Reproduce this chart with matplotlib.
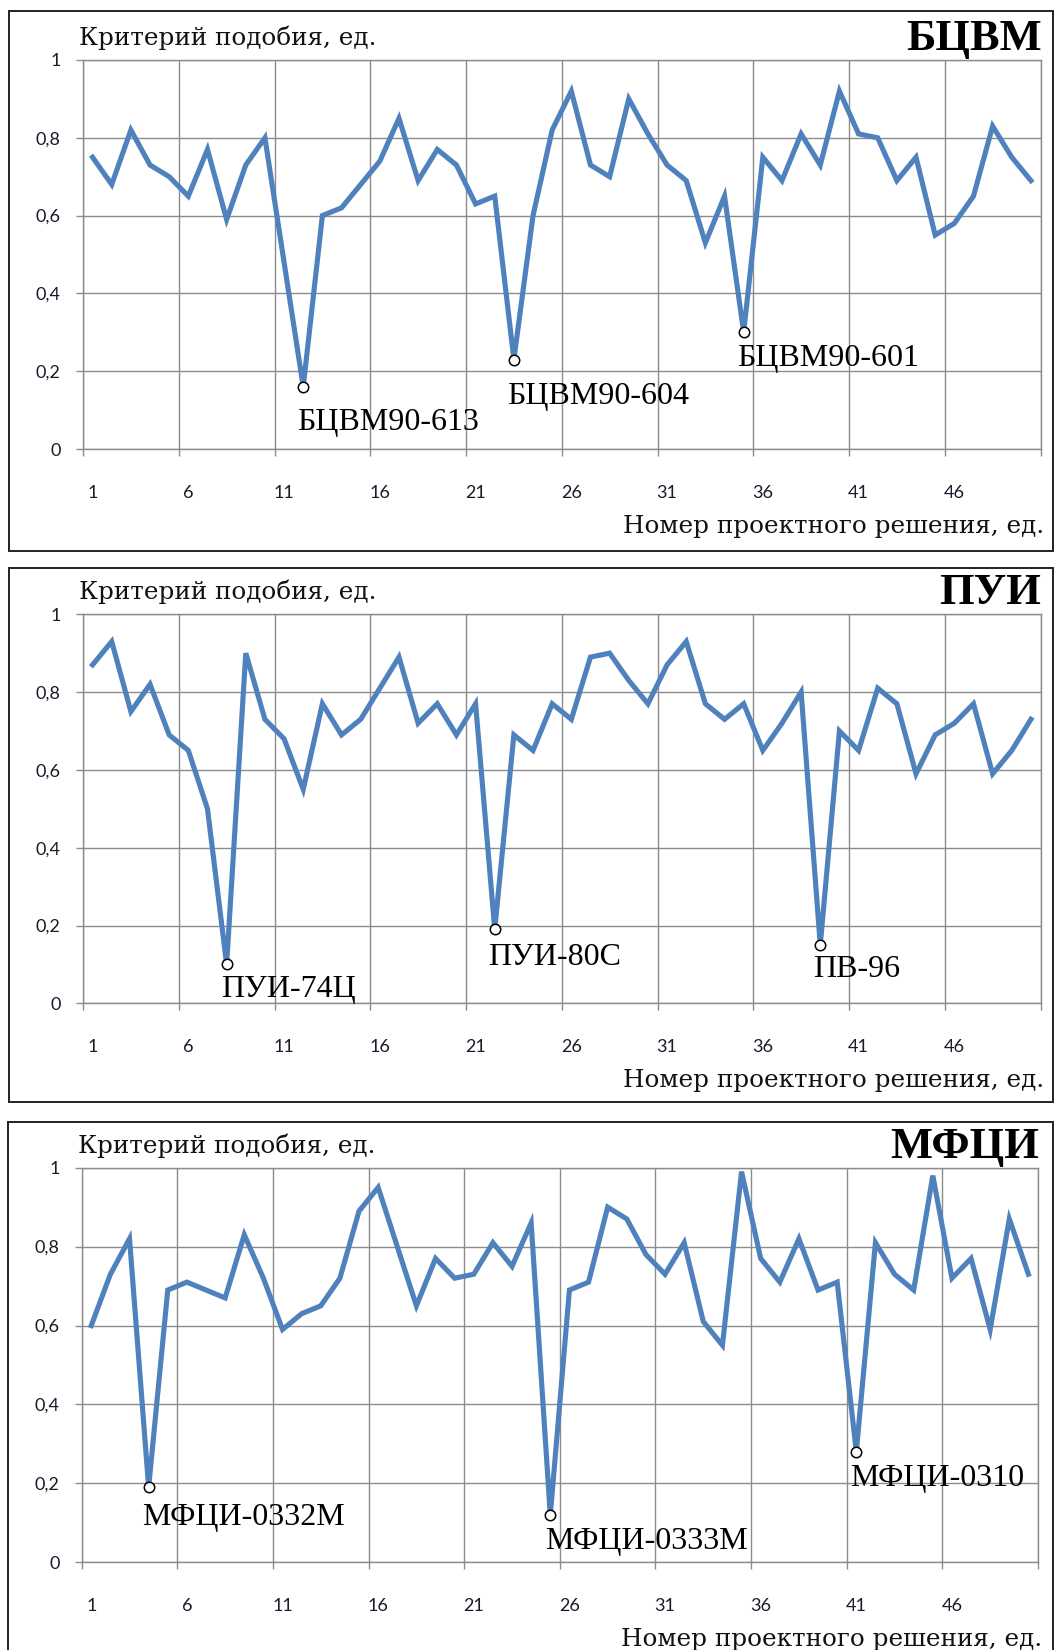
import numpy as np
import matplotlib
matplotlib.use("Agg")
import matplotlib.pyplot as plt
from matplotlib.patches import Rectangle

plt.rcParams['font.family'] = ['Lato', 'DejaVu Sans']

# ===================== данные =====================
n_items = 50
x_idx = np.arange(1, n_items + 1)
x_tick_labels = ["1", "6", "11", "16", "21", "26", "31", "36", "41", "46"]
y_tick_labels = ["0", "0,2", "0,4", "0,6", "0,8", "1"]

bcvm = [0.75, 0.68, 0.82, 0.73, 0.70, 0.65, 0.77, 0.59, 0.73, 0.80,
        0.48, 0.16, 0.60, 0.62, 0.68, 0.74, 0.85, 0.69, 0.77, 0.73,
        0.63, 0.65, 0.23, 0.60, 0.82, 0.92, 0.73, 0.70, 0.90, 0.81,
        0.73, 0.69, 0.53, 0.65, 0.30, 0.75, 0.69, 0.81, 0.73, 0.92,
        0.81, 0.80, 0.69, 0.75, 0.55, 0.58, 0.65, 0.83, 0.75, 0.69]

pui = [0.87, 0.93, 0.75, 0.82, 0.69, 0.65, 0.50, 0.10, 0.90, 0.73,
       0.68, 0.55, 0.77, 0.69, 0.73, 0.81, 0.89, 0.72, 0.77, 0.69,
       0.77, 0.19, 0.69, 0.65, 0.77, 0.73, 0.89, 0.90, 0.83, 0.77,
       0.87, 0.93, 0.77, 0.73, 0.77, 0.65, 0.72, 0.80, 0.15, 0.70,
       0.65, 0.81, 0.77, 0.59, 0.69, 0.72, 0.77, 0.59, 0.65, 0.73]

mfci = [0.60, 0.73, 0.82, 0.19, 0.69, 0.71, 0.69, 0.67, 0.83, 0.72,
        0.59, 0.63, 0.65, 0.72, 0.89, 0.95, 0.80, 0.65, 0.77, 0.72,
        0.73, 0.81, 0.75, 0.86, 0.12, 0.69, 0.71, 0.90, 0.87, 0.78,
        0.73, 0.81, 0.61, 0.55, 0.99, 0.77, 0.71, 0.82, 0.69, 0.71,
        0.28, 0.81, 0.73, 0.69, 0.98, 0.72, 0.77, 0.59, 0.87, 0.73]

titles = ["БЦВМ", "ПУИ", "МФЦИ"]
series = [bcvm, pui, mfci]

# отмеченные точки: номер решения и подпись
marked_idx = [[12, 23, 35], [8, 22, 39], [4, 25, 41]]
marked_names = [["БЦВМ90-613", "БЦВМ90-604", "БЦВМ90-601"],
                ["ПУИ-74Ц", "ПУИ-80С", "ПВ-96"],
                ["МФЦИ-0332М", "МФЦИ-0333М", "МФЦИ-0310"]]

y_title = "Критерий подобия, ед."
x_title = "Номер проектного решения, ед."

# ===================== оформление =====================
W, H = 1056, 1650
LINE_COLOR = '#4f81bd'
GRID_COLOR = '#8c8c8c'
TICK_COLOR = '#1a1a2a'

# положение осей в пикселях: left, top, right, bottom
axes_px = [(83, 60, 1040.5, 449),
           (83, 614.3, 1040.5, 1003.3),
           (81.7, 1167.7, 1038, 1562.3)]
# рамки панелей: left, top, right, bottom
frames_px = [(9, 11, 1053, 551), (9, 568, 1053, 1102), (8, 1122, 1053, 1665)]
# смещения подписей (px): dx, dy вниз до базовой линии
label_offsets = [[(-6, 43), (-7, 44), (-7, 34)],
                 [(-6, 33), (-7, 36), (-7, 32)],
                 [(-7, 38), (-5, 34), (-6, 34)]]

fig = plt.figure(figsize=(W / 100, H / 100), dpi=100)
fig.patch.set_facecolor('white')

for fl, ft, fr, fb in frames_px:
    fig.add_artist(Rectangle((fl / W, 1 - fb / H), (fr - fl) / W, (fb - ft) / H,
                             transform=fig.transFigure, fill=False,
                             edgecolor='#222222', linewidth=1.4, clip_on=False))

for i, (vals, title) in enumerate(zip(series, titles)):
    l, t, r, b = axes_px[i]
    ax = fig.add_axes([l / W, 1 - b / H, (r - l) / W, (b - t) / H])
    ax.set_xlim(0.5, n_items + 0.5)
    ax.set_ylim(0, 1)

    ax.plot(x_idx, vals, color=LINE_COLOR, lw=3.7, solid_joinstyle='miter',
            clip_on=False, zorder=3)

    # подписи по центрам категорий, сетка - по границам категорий
    ax.set_xticks([int(s) for s in x_tick_labels])
    ax.set_xticklabels(x_tick_labels)
    ax.set_xticks(np.arange(0.5, n_items + 1, 5), minor=True)
    ax.set_yticks(np.linspace(0, 1, 6))
    ax.set_yticklabels(y_tick_labels)

    ax.tick_params(axis='x', which='minor', direction='out', length=5,
                   width=1.0, color=GRID_COLOR)
    ax.tick_params(axis='x', which='major', length=0, pad=26,
                   labelsize=13, labelcolor=TICK_COLOR)
    ax.tick_params(axis='y', direction='out', length=5, width=1.0,
                   color=GRID_COLOR, pad=11, labelsize=13, labelcolor=TICK_COLOR)
    ax.grid(True, axis='x', which='minor', color=GRID_COLOR, lw=1.0)
    ax.grid(True, axis='y', which='major', color=GRID_COLOR, lw=1.0)
    ax.grid(False, axis='x', which='major')
    ax.set_axisbelow(True)
    for sp in ax.spines.values():
        sp.set_color(GRID_COLOR)
        sp.set_linewidth(1.0)

    h_px = b - t
    ax.text(-0.004, 1 + 15 / h_px, y_title, transform=ax.transAxes,
            ha='left', va='baseline', fontsize=17.7, family='DejaVu Serif',
            color='#111111')
    ax.text(1.001, 1 + 10 / h_px, title, transform=ax.transAxes,
            ha='right', va='baseline', fontsize=32, fontweight='bold',
            family='Liberation Serif', color='black')
    ax.text(1.004, -84 / h_px, x_title, transform=ax.transAxes,
            ha='right', va='baseline', fontsize=17.7, family='DejaVu Serif',
            color='#111111')

    for k, name in enumerate(marked_names[i]):
        n = marked_idx[i][k]
        dx, dy = label_offsets[i][k]
        ax.plot(n, vals[n - 1], 'o', ms=7.5, mfc='white', mec='black', mew=1.1,
                zorder=4, clip_on=False)
        ax.annotate(name, (n, vals[n - 1]), xytext=(dx, -dy),
                    textcoords='offset pixels', ha='left', va='baseline',
                    fontsize=23, family='Liberation Serif', color='black',
                    zorder=5)

fig.savefig('out.png', dpi=100)
